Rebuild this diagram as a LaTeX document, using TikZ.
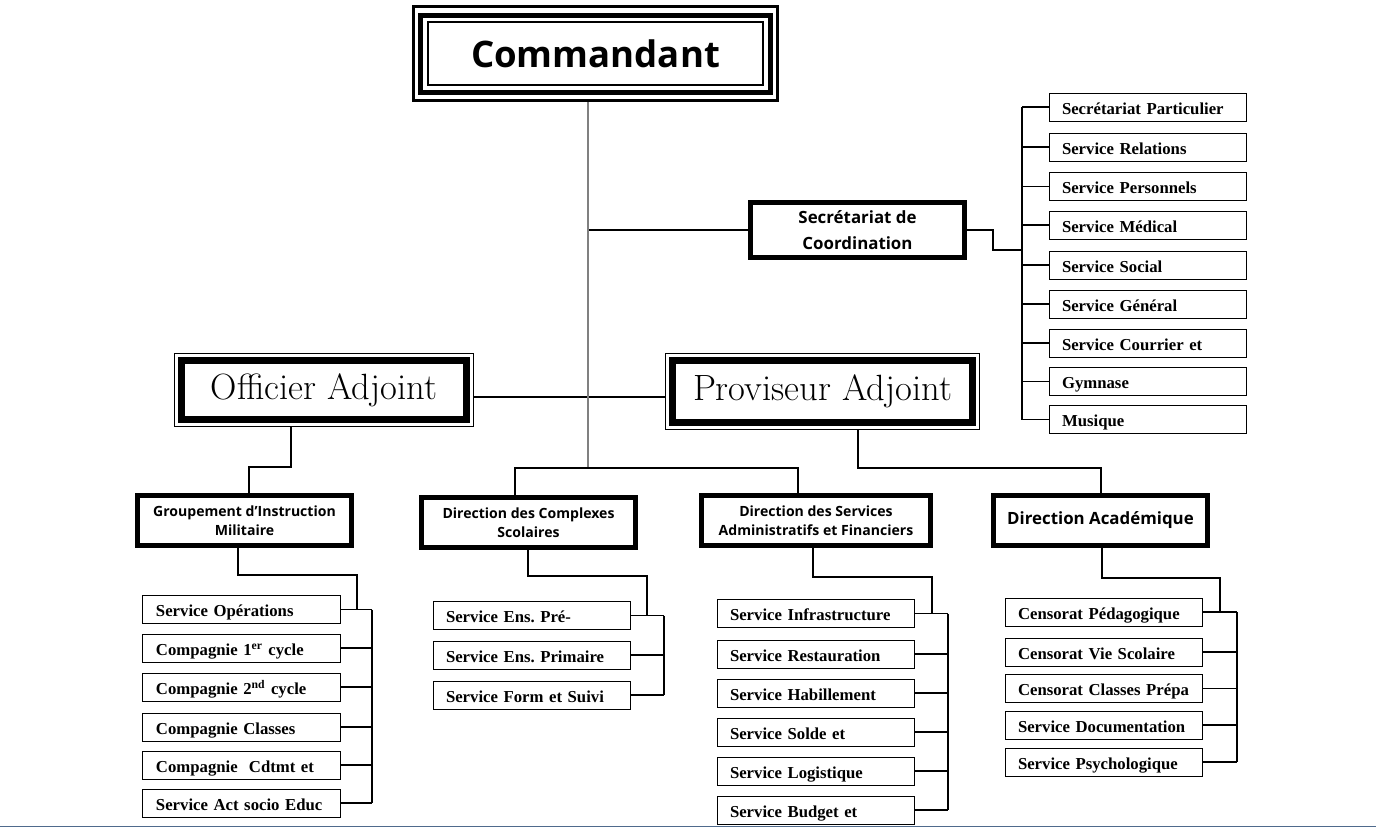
\documentclass[tikz,border=0pt]{standalone}
\usepackage{fontspec}
\newfontfamily\headfont{Open Sans}
\newfontfamily\servfont{Liberation Serif}
\usetikzlibrary{fit,calc}
\definecolor{trunkgray}{HTML}{808080}
\definecolor{pagerule}{HTML}{4F6A8C}
\frenchspacing

\begin{document}
\begin{tikzpicture}[x=0.25mm, y=-0.25mm,
  topbox/.style={draw, line width=0.5mm, inner sep=0pt, minimum width=83.75mm,
                 minimum height=15.75mm, font=\headfont\bfseries\fontsize{26}{30}\selectfont},
  topthick/.style={draw, line width=1.25mm, inner xsep=1.625mm, inner ysep=1.5mm},
  toprim/.style={draw, line width=0.75mm, inner xsep=1.125mm, inner ysep=1.5mm},
  deputy/.style={draw, line width=1.75mm, inner sep=0pt, minimum height=14.75mm,
                 font=\fontsize{26}{30}\selectfont},
  deputyrim/.style={draw, line width=0.25mm, inner sep=0.875mm},
  headbox/.style={draw, line width=1.25mm, inner sep=0pt, minimum width=53.5mm,
                  minimum height=12.5mm, align=center,
                  font=\headfont\bfseries\fontsize{10}{13.5}\selectfont},
  servbox/.style={draw, line width=0.25mm, minimum height=7mm, inner xsep=3.25mm,
                  inner ysep=0pt, text width=42.75mm, text height=3.7mm, text depth=0pt,
                  align=left, font=\servfont\bfseries\fontsize{11.9}{14}\selectfont},
  link/.style={draw, line width=0.35mm},
  trunk/.style={draw=trunkgray, line width=0.5mm},
]
\useasboundingbox (0,0) rectangle (1376,828);

% top of the chart
\node[topbox] (cmd) at (595.5,53.5) {Commandant};
\node[topthick, fit=(cmd)] (cmdmid) {};
\node[toprim, fit=(cmdmid)] (cmdout) {};

\node[headbox, minimum height=13.75mm, font=\headfont\bfseries\fontsize{12}{19}\selectfont]
  (sec) at (857.5,230) {Secrétariat de\\Coordination};

% deputies
\node[deputy, minimum width=71.25mm] (off) at (324,390) {Officier Adjoint};
\node[deputyrim, fit=(off)] (offout) {};
\node[deputy, minimum width=75mm, minimum height=15.5mm] (prov) at (822.5,391.5) {Proviseur Adjoint};
\node[deputyrim, fit=(prov)] (provout) {};

% directions
\node[headbox] (gim) at (244.5,520.5) {Groupement d’Instruction\\Militaire};
\node[headbox] (dcs) at (528.5,522.5) {Direction des Complexes\\Scolaires};
\node[headbox, minimum width=57.25mm] (dsaf) at (816,520.5)
  {Direction des Services\\Administratifs et Financiers};
\node[headbox, font=\headfont\bfseries\fontsize{12}{16}\selectfont] (da) at (1100.5,520.5)
  {Direction Académique};

% services
\foreach \y/\t [count=\i] in {107/Secrétariat Particulier, 147/Service Relations,
    186.5/Service Personnels, 225/Service Médical, 265/Service Social,
    304/Service Général, 343/Service Courrier et, 381.5/Gymnase, 419.5/Musique}
  \node[servbox] (r\i) at (1147.5,\y) {\t};

\foreach \y/\t [count=\i] in {609.5/Service Opérations, 648/Compagnie 1\textsuperscript{er} cycle,
    687/Compagnie 2\textsuperscript{nd} cycle, 727/Compagnie Classes,
    765/Compagnie~ Cdtmt et, 803/Service Act socio Educ}
  \node[servbox] (g\i) at (241.5,\y) {\t};

\foreach \y/\t [count=\i] in {615.5/Service Ens. Pré-, 655/Service Ens. Primaire,
    695/Service Form et Suivi}
  \node[servbox] (c\i) at (531.5,\y) {\t};

\foreach \y/\t [count=\i] in {613.5/Service Infrastructure, 654/Service Restauration,
    693/Service Habillement, 732/Service Solde et, 771/Service Logistique,
    810/Service Budget et}
  \node[servbox] (f\i) at (815.5,\y) {\t};

\foreach \y/\t [count=\i] in {612/Censorat Pédagogique, 652/Censorat Vie Scolaire,
    688.5/Censorat Classes Prépa, 725/Service Documentation, 762/Service Psychologique}
  \node[servbox] (a\i) at (1103.5,\y) {\t};

% links between levels
\coordinate (hub) at (588,468);
\draw[link] (sec.west -| hub) -- (sec.west);
\draw[link] ($(offout.east)+(0,7)$) coordinate (dl) -- (dl -| provout.west);
\draw[trunk] (hub |- cmdout.south) -- (hub);

\coordinate (oa) at (291,467);
\coordinate (ob) at (249,467);
\draw[link] (oa |- offout.south) -- (oa) -- (ob) -- (ob |- gim.north);

\coordinate (ha) at (515,468);
\coordinate (hb) at (798,468);
\draw[link] (ha |- dcs.north) -- (ha) -- (hb) -- (hb |- dsaf.north);

\coordinate (pa) at (858,468);
\coordinate (pb) at (1101,468);
\draw[link] (pa |- provout.south) -- (pa) -- (pb) -- (pb |- da.north);

% secretariat column
\coordinate (sa) at (993,250);
\coordinate (sbus) at (1022,250);
\draw[link] (sec.east) -| (sa) -- (sbus);
\draw[link] (sbus |- r1.west) -- (sbus |- r9.west);
\foreach \i in {1,...,9}
  \draw[link] (sbus |- r\i.west) -- (r\i.west);

% service buses
\coordinate (ga) at (238,575);
\coordinate (gb) at (357,575);
\coordinate (gbus) at (372,0);
\draw[link] (ga |- gim.south) -- (ga) -- (gb) -- (gb |- g1.east);
\draw[link] (gbus |- g1.east) -- (gbus |- g6.east);
\foreach \i in {1,...,6}
  \draw[link] (g\i.east) -- (gbus |- g\i.east);

\coordinate (ca) at (528,576);
\coordinate (cb) at (647,576);
\coordinate (cbus) at (664,0);
\draw[link] (ca |- dcs.south) -- (ca) -- (cb) -- (cb |- c1.east);
\draw[link] (cbus |- c1.east) -- (cbus |- c3.east);
\foreach \i in {1,...,3}
  \draw[link] (c\i.east) -- (cbus |- c\i.east);

\coordinate (fa) at (813,577);
\coordinate (fb) at (932,577);
\coordinate (fbus) at (948,0);
\draw[link] (fa |- dsaf.south) -- (fa) -- (fb) -- (fb |- f1.east);
\draw[link] (fbus |- f1.east) -- (fbus |- f6.east);
\foreach \i in {1,...,6}
  \draw[link] (f\i.east) -- (fbus |- f\i.east);

\coordinate (aa) at (1102,578);
\coordinate (ab) at (1220,578);
\coordinate (abus) at (1237,0);
\draw[link] (aa |- da.south) -- (aa) -- (ab) -- (ab |- a1.east);
\draw[link] (abus |- a1.east) -- (abus |- a5.east);
\foreach \i in {1,...,5}
  \draw[link] (a\i.east) -- (abus |- a\i.east);

% page rule
\draw[pagerule, line width=0.4mm] (0,826.5) -- (1376,826.5);
\end{tikzpicture}
\end{document}
